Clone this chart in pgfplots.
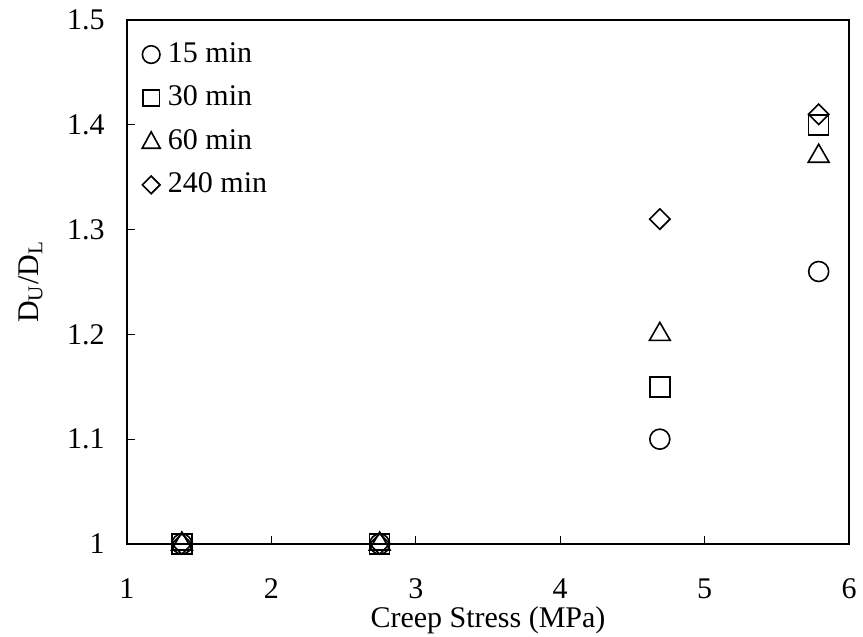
\documentclass[border=0pt]{standalone}
\usepackage{fontspec}
\setmainfont{Liberation Serif}
\usepackage{pgfplots}
\pgfplotsset{compat=1.18}

\begin{document}
\fontsize{15}{18}\selectfont
\begin{tikzpicture}
\begin{axis}[
  name=ax,
  scale only axis,
  width=361pt, height=262pt,
  xmin=1, xmax=6, ymin=1, ymax=1.5,
  xtick={1,2,3,4,5,6}, ytick={1,1.1,1.2,1.3,1.4,1.5},
  yticklabel style={/pgf/number format/fixed, /pgf/number format/precision=1, xshift=-6pt},
  xticklabel style={yshift=-12pt},
  /pgf/number format/assume math mode=true,
  tick align=inside,
  xtick pos=bottom, ytick pos=left,
  major tick length=4pt,
  tick style={line width=0.6pt, black},
  axis line style={line width=1pt},
  xlabel={Creep Stress (MPa)},
  ylabel={D\textsubscript{U}/D\textsubscript{L}},
  xlabel style={at={(axis description cs:0.5,0)}, anchor=north, yshift=-26pt},
  ylabel style={at={(axis description cs:0,0.5)}, anchor=south, yshift=37pt},
  legend style={draw=none, fill=none, at={(0,1)}, anchor=north west,
    xshift=4pt, yshift=-8pt, row sep=7.5pt, font=\fontsize{15}{18}\selectfont,
    nodes={inner sep=1pt}},
  legend cell align=left,
  every axis plot/.append style={only marks, black, line width=0.8pt},
  clip=false,
]
% data points per holding time; legend symbols are drawn a little smaller
\addplot[mark=o, mark size=5pt,
  legend image code/.code={\draw[line width=0.8pt] (0.16cm,0) circle (4.4pt);}]
  coordinates {(1.38,1.00) (2.75,1.00) (4.69,1.10) (5.79,1.26)};
\addlegendentry{\,15 min}
\addplot[mark=square, mark size=5pt,
  legend image code/.code={\draw[line width=0.8pt, shift={(0.16cm,0)}] (-4.1pt,-4.1pt) rectangle (4.1pt,4.1pt);}]
  coordinates {(1.38,1.00) (2.75,1.00) (4.69,1.15) (5.79,1.40)};
\addlegendentry{\,30 min}
\addplot[mark=triangle, mark size=6pt,
  legend image code/.code={\draw[line width=0.8pt, shift={(0.16cm,0)}] (0,4.8pt) -- (4.5pt,-3.4pt) -- (-4.5pt,-3.4pt) -- cycle;}]
  coordinates {(1.38,1.00) (2.75,1.00) (4.69,1.20) (5.79,1.37)};
\addlegendentry{\,60 min}
\addplot[mark=square, mark size=3.6pt, mark options={rotate=45},
  legend image code/.code={\draw[line width=0.8pt, shift={(0.16cm,0)}] (0,4.4pt) -- (4.4pt,0) -- (0,-4.4pt) -- (-4.4pt,0) -- cycle;}]
  coordinates {(1.38,1.00) (2.75,1.00) (4.69,1.31) (5.79,1.41)};
\addlegendentry{\,240 min}
\end{axis}
\pgfresetboundingbox
\path ([shift={(-63.5pt,-46.5pt)}]ax.south west) rectangle ([shift={(7pt,10pt)}]ax.north east);
\end{tikzpicture}
\end{document}
